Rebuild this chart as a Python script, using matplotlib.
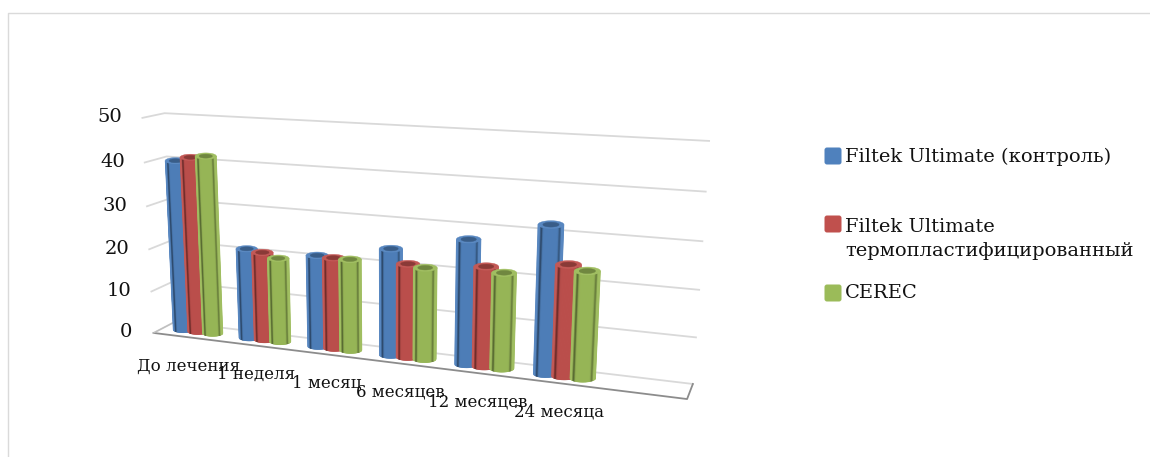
import numpy as np
import matplotlib
matplotlib.use("Agg")
import matplotlib.pyplot as plt
from matplotlib.patches import FancyBboxPatch, Polygon
from matplotlib.colors import to_rgb

categories = ["До лечения", "1 неделя", "1 месяц", "6 месяцев", "12 месяцев", "24 месяца"]
series_names = ["Filtek Ultimate (контроль)", "Filtek Ultimate\nтермопластифицированный", "CEREC"]
control = [40, 21, 21, 24, 27.5, 32]
thermo = [41, 20.5, 20.8, 21, 22, 24]
cerec = [41.5, 19.5, 20.8, 20.5, 21, 23]
series_values = [control, thermo, cerec]
series_colors = ["#4F81BD", "#C0504D", "#9BBB59"]
value_ticks = [0, 10, 20, 30, 40, 50]

SERIF = ["DejaVu Serif"]
N_SLOTS = 7        # the floor has room for one empty category slot on the right
BAR_STEP = 0.225
BAR_W = 0.31
ELLIPSE_RATIO = 0.30   # minor/major axis of the cylinder caps on the canvas

# Perspective camera fitted from where the chart box corners sit on the canvas:
# (category slot, value, depth) -> canvas position
anchors_world = np.array([[0, 0, 0], [0, 50, 0], [0, 0, 1], [0, 50, 1],
                          [N_SLOTS, 0, 1], [N_SLOTS, 50, 1], [N_SLOTS, 0, 0]], float)
anchors_canvas = np.array([[155, 332], [141, 118], [173, 323], [166, 113],
                           [693, 383], [709, 141], [687, 400]], float)


def fit_camera(world, canvas):
    rows, rhs = [], []
    for (x, y, z), (u, v) in zip(world, canvas):
        rows.append([x, y, z, 1, 0, 0, 0, 0, -u * x, -u * y, -u * z])
        rhs.append(u)
        rows.append([0, 0, 0, 0, x, y, z, 1, -v * x, -v * y, -v * z])
        rhs.append(v)
    sol = np.linalg.lstsq(np.array(rows), np.array(rhs), rcond=None)[0]
    return np.append(sol, 1.0).reshape(3, 4)


CAM = fit_camera(anchors_world, anchors_canvas)


def project(x, y, z):
    x, y, z = np.broadcast_arrays(np.asarray(x, float), np.asarray(y, float), np.asarray(z, float))
    h = CAM @ np.stack([x.ravel(), y.ravel(), z.ravel(), np.ones(x.size)])
    return h[0] / h[2], h[1] / h[2]


def mix(color, other, amount):
    a, b = np.array(to_rgb(color)), np.array(to_rgb(other))
    return tuple(a + (b - a) * amount)


def body_shade(color, u):
    """Bevelled cylinder shading across the width; u runs from -1 to 1."""
    a = abs(u)
    strength = 0.42 if u < 0 else 0.30
    dark = strength * np.exp(-((a - 0.70) / 0.09) ** 2) + 0.03
    if a > 0.84:
        return mix(color, "white", 0.05)
    return mix(color, "black", dark)


def draw_cylinder(ax, cx, cz, value, color, zorder):
    # screen-aligned caps joined by shaded strips
    (b0x, b1x), (b0y, b1y) = project([cx - BAR_W / 2, cx + BAR_W / 2], 0, cz)
    (t0x, t1x), (t0y, t1y) = project([cx - BAR_W / 2, cx + BAR_W / 2], value, cz)
    bcx, bcy, brx = (b0x + b1x) / 2, (b0y + b1y) / 2, (b1x - b0x) / 2
    tcx, tcy, trx = (t0x + t1x) / 2, (t0y + t1y) / 2, (t1x - t0x) / 2
    us = np.linspace(-1, 1, 45)
    bulge = np.sqrt(1 - us ** 2)
    bx, by = bcx + brx * us, bcy + ELLIPSE_RATIO * brx * bulge
    tx, ty = tcx + trx * us, tcy + ELLIPSE_RATIO * trx * bulge
    for i in range(len(us) - 1):
        c = body_shade(color, (us[i] + us[i + 1]) / 2)
        quad = [(bx[i], by[i]), (bx[i + 1], by[i + 1]), (tx[i + 1], ty[i + 1]), (tx[i], ty[i])]
        ax.add_patch(Polygon(quad, closed=True, facecolor=c, edgecolor=c, lw=0.4, zorder=zorder))
    full = np.linspace(0, 2 * np.pi, 61)
    for scale, c in ((1.0, mix(color, "white", 0.05)), (0.62, mix(color, "black", 0.28))):
        ex = tcx + scale * trx * np.cos(full)
        ey = tcy + scale * ELLIPSE_RATIO * trx * np.sin(full)
        ax.add_patch(Polygon(np.c_[ex, ey], closed=True, facecolor=c, edgecolor=c, lw=0.3, zorder=zorder + 0.1))


fig = plt.figure(figsize=(11.5, 4.57), dpi=100, facecolor="white")
ax = fig.add_axes([0, 0, 1, 1])
ax.set_xlim(0, 1150)
ax.set_ylim(457, 0)
ax.axis("off")

# chart frame, only its top and left edges are in view
ax.plot([8, 8, 1150], [457, 13, 13], color="#DADADA", lw=1.0, zorder=1)

# gridlines on the back and side walls, with value labels
for v in value_ticks:
    x, y = project([0, 0, N_SLOTS], v, [0, 1, 1])
    ax.plot(x, y, color="#D9D9D9", lw=1.3, zorder=2)
    ax.text(x[0] - (20 if v else 21), y[0] - 0.5, str(v), ha="right", va="center", fontsize=14,
            family=SERIF, color="#111111", zorder=5)

# floor outline
fx, fy = project([0, N_SLOTS, N_SLOTS], 0, [0, 0, 1])
ax.plot(fx, fy, color="#8C8C8C", lw=1.3, zorder=2.5)
gx, gy = project([0, 0], 0, [0, 1])
ax.plot(gx, gy, color="#BFBFBF", lw=1.0, zorder=2.5)

# cylinders, left to right so each one overlaps its neighbour
z = 10.0
for i in range(len(categories)):
    for s, values in enumerate(series_values):
        cx = i + 0.52 + (s - 1) * BAR_STEP
        draw_cylinder(ax, cx, 0.5, values[i], series_colors[s], z)
        z += 1

# category labels below the front floor edge
for i, label in enumerate(categories):
    x, y = project(i + 0.5, 0, 0)
    ax.text(x[0] + 2, y[0] + 29, label, ha="center", va="center", fontsize=12,
            family=SERIF, color="#111111", zorder=60)

# legend
legend_y = [156, 224, 293]
text_y = [157, 239, 293]
for yc, ty_, name, color in zip(legend_y, text_y, series_names, series_colors):
    ax.add_patch(FancyBboxPatch((826, yc - 7), 14, 14, boxstyle="round,pad=1.5,rounding_size=2.5",
                                facecolor=color, edgecolor="none", zorder=5))
    ax.text(845, ty_, name, ha="left", va="center", fontsize=14, family=SERIF,
            color="#111111", linespacing=1.42, zorder=5)

fig.savefig("out.png", dpi=100, facecolor="white")
